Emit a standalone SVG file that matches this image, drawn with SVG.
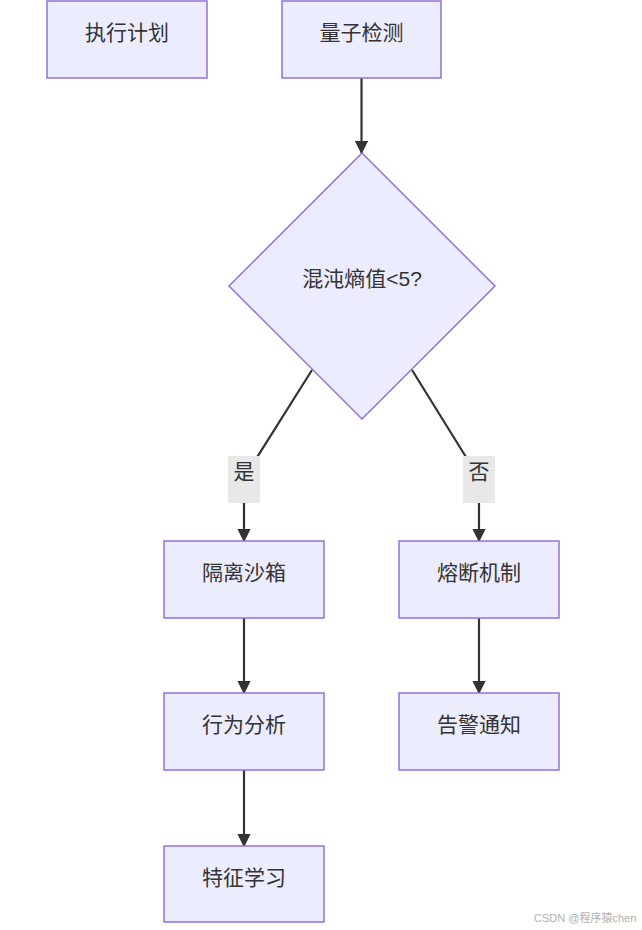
<svg xmlns="http://www.w3.org/2000/svg" width="642" height="930" viewBox="0 0 642 930">
<style>
.node rect,.node polygon{fill:#ECECFF;stroke:#9370DB;stroke-width:1.5}
.node text{font-family:"Liberation Sans","Noto Sans CJK SC",sans-serif;font-size:21px;fill:#333;text-anchor:middle;dominant-baseline:central}
.edge{fill:none;stroke:#333;stroke-width:2.2}
.lbl rect{fill:#e8e8e8;stroke:none}
.lbl text{font-family:"Liberation Sans","Noto Sans CJK SC",sans-serif;font-size:21px;fill:#333;text-anchor:middle;dominant-baseline:central}
.wm{font-family:"Liberation Sans","Noto Sans CJK SC",sans-serif;font-size:11px;fill:#b0b0b0}
</style>
<defs>
<marker id="arr" viewBox="0 0 10 10" refX="9" refY="5" markerWidth="6" markerHeight="6" markerUnits="strokeWidth" orient="auto">
<path d="M0,0 L10,5 L0,10 z" fill="#333"/>
</marker>
</defs>
<rect width="642" height="930" fill="#fff"/>
<g id="edges">
<path class="edge" d="M361.5,78 L361.5,153" marker-end="url(#arr)"/>
<path class="edge" d="M312,370 L244,478 L244,541" marker-end="url(#arr)"/>
<path class="edge" d="M412,370 L479,478 L479,541" marker-end="url(#arr)"/>
<path class="edge" d="M244,618 L244,693" marker-end="url(#arr)"/>
<path class="edge" d="M479,618 L479,693" marker-end="url(#arr)"/>
<path class="edge" d="M244,770 L244,846" marker-end="url(#arr)"/>
<g class="lbl" id="label-yes"><rect x="228" y="456" width="32" height="47"/><text x="244" y="471">是</text></g>
<g class="lbl" id="label-no"><rect x="463" y="456" width="32" height="47"/><text x="479" y="471">否</text></g>
</g>
<g class="node" id="exec"><rect x="47" y="1" width="160" height="77"/><text x="127" y="32">执行计划</text></g>
<g class="node" id="quantum"><rect x="282" y="1" width="159" height="77"/><text x="361.5" y="32">量子检测</text></g>
<g class="node" id="decision"><polygon points="362,153 495,286 362,419 229,286"/><text x="362" y="278">混沌熵值&lt;5?</text></g>
<g class="node" id="sandbox"><rect x="164" y="541" width="160" height="77"/><text x="244" y="572">隔离沙箱</text></g>
<g class="node" id="fuse"><rect x="399" y="541" width="160" height="77"/><text x="479" y="572">熔断机制</text></g>
<g class="node" id="behavior"><rect x="164" y="693" width="160" height="77"/><text x="244" y="724">行为分析</text></g>
<g class="node" id="alert"><rect x="399" y="693" width="160" height="77"/><text x="479" y="724">告警通知</text></g>
<g class="node" id="learn"><rect x="164" y="846" width="160" height="76"/><text x="244" y="877">特征学习</text></g>
<text class="wm" x="534" y="922">CSDN @程序猿chen</text>
</svg>
